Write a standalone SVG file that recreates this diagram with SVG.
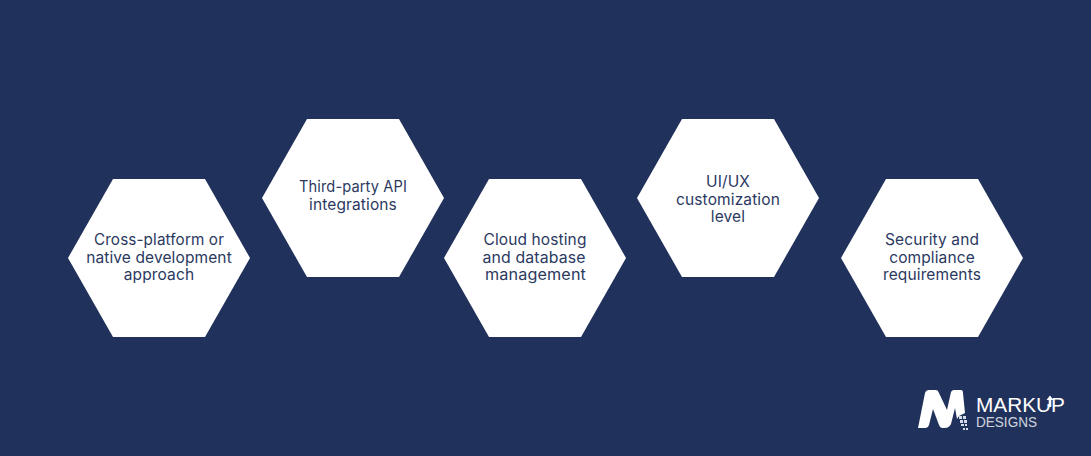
<svg xmlns="http://www.w3.org/2000/svg" width="1091" height="456" viewBox="0 0 1091 456">
<style>
.hex{fill:#fff}
.t{font-family:Inter,"Liberation Sans",sans-serif;font-size:15.500px;letter-spacing:.12px;fill:#2b3961;text-anchor:middle}
.logo{font-family:"Liberation Sans",Arial,sans-serif;fill:#fff}
</style>
<defs><polygon id="h" points="-91,0 -46,-79 46,-79 91,0 46,79 -46,79"/></defs>
<rect width="1091" height="456" fill="#20315b"/>
<g id="connectors"/>
<g id="node1"><use href="#h" class="hex" x="159" y="258"/><text class="t" x="159" y="244.500" textLength="130" lengthAdjust="spacingAndGlyphs">Cross-platform or</text><text class="t" x="159" y="262.500">native development</text><text class="t" x="159" y="279.500">approach</text></g>
<g id="node2"><use href="#h" class="hex" x="353" y="198"/><text class="t" x="353" y="192" textLength="108" lengthAdjust="spacingAndGlyphs">Third-party API</text><text class="t" x="353" y="210">integrations</text></g>
<g id="node3"><use href="#h" class="hex" x="535" y="258"/><text class="t" x="535" y="244.500">Cloud hosting</text><text class="t" x="534" y="262.500" textLength="103" lengthAdjust="spacingAndGlyphs">and database</text><text class="t" x="535.500" y="279.500" textLength="101" lengthAdjust="spacingAndGlyphs">management</text></g>
<g id="node4"><use href="#h" class="hex" x="728" y="198"/><text class="t" x="728" y="187">UI/UX</text><text class="t" x="728" y="205">customization</text><text class="t" x="728" y="222">level</text></g>
<g id="node5"><use href="#h" class="hex" x="932" y="258"/><text class="t" x="932" y="244.500">Security and</text><text class="t" x="932" y="262.500">compliance</text><text class="t" x="932" y="279.500">requirements</text></g>
<g id="logo">
<path fill="#fff" d="M918 428 L925 393 Q926 390 929 390 L936 390 Q938 390 939 393 L947 410 L951 392 Q952 390 954 390 L961 390 Q963 390 963 393 L965 413 L959 416 L957 419 L955 408 L951 424 Q949 428 945 428 L942 428 Q940 428 939 425 L933 409 L929 425 Q928 428 925 428 Z"/>
<g fill="#d5dbe8"><rect x="959" y="416" width="3" height="3"/><rect x="963" y="416" width="3" height="3"/><rect x="960" y="420" width="3" height="3"/><rect x="964" y="420" width="3" height="3"/><rect x="961" y="424" width="3" height="2"/><rect x="965" y="424" width="2" height="2"/><rect x="963" y="428" width="2" height="2"/><rect x="966" y="428" width="2" height="2"/></g>
<text class="logo" x="976" y="411.500" font-size="19.500" textLength="89" lengthAdjust="spacingAndGlyphs">MARKUP</text>
<path fill="#20315b" d="M1047 397h5v7h-5z"/>
<path fill="#fff" d="M1050 395.500l3.500 4.500h-2.200v7h-2.600v-7h-2.200z"/>
<text class="logo" x="976" y="427" font-size="14" fill-opacity=".8" textLength="61" lengthAdjust="spacingAndGlyphs">DESIGNS</text>
</g>
</svg>
